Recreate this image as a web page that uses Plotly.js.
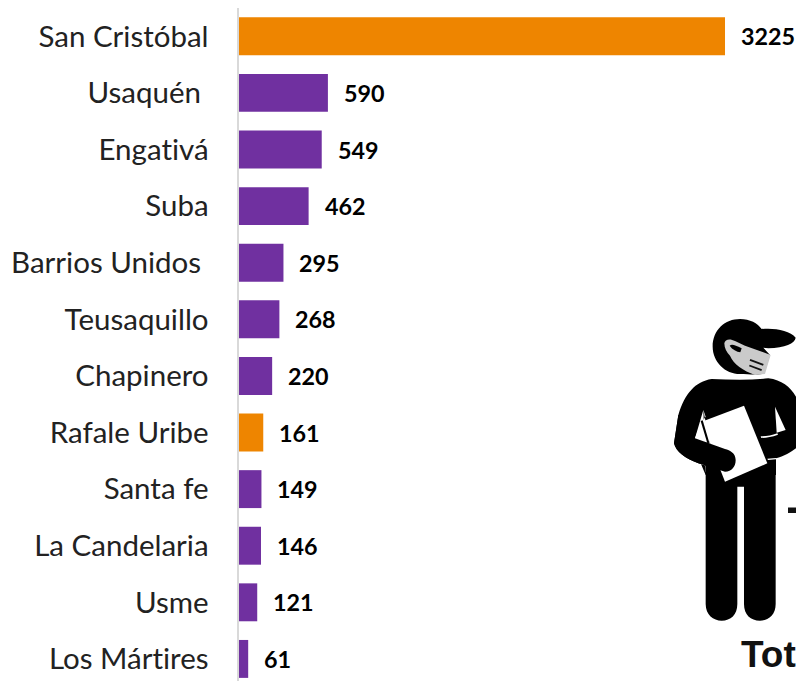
<!DOCTYPE html>
<html><head><meta charset="utf-8">
<script src="https://cdn.plot.ly/plotly-3.0.1.min.js"></script>
<style>html,body{margin:0;padding:0;background:#fff;overflow:hidden}#c{width:796px;height:681px}svg text{font-variant-ligatures:none;font-feature-settings:"liga" 0}</style>
</head><body><div id="c"></div>
<script>
const categories=["San Cristóbal","Usaquén\u00a0","Engativá","Suba","Barrios Unidos\u00a0","Teusaquillo","Chapinero","Rafale Uribe","Santa fe","La Candelaria","Usme","Los Mártires"];
const values=[3225,590,549,462,295,268,220,161,149,146,121,61];
const ORANGE="#EE8500",PURPLE="#7030A0";
const barColors=[ORANGE,PURPLE,PURPLE,PURPLE,PURPLE,PURPLE,PURPLE,ORANGE,PURPLE,PURPLE,PURPLE,PURPLE];
const W=796,H=681,L=239,T=8;
// decorative figure written in local crop units (1/3 px), converted to paper space
const px=x=>(x-L)/(W-L), py=y=>1-(y-T)/(H-T);
const conv=(d,ox,oy)=>{let i=0;return d.replace(/-?\d+(\.\d+)?/g,m=>{const v=+m;return ((i++%2===0)?px(ox+v/3):py(oy+v/3)).toFixed(5);});};
const fig=(d,c,ox,oy)=>({type:'path',xref:'paper',yref:'paper',path:conv(d,ox,oy),fillcolor:c,line:{width:0},layer:'above'});
const H1=(d,c)=>fig(d,c,705,315), B=(d,c)=>fig(d,c,670,375);
const shapes=[
 // legs and torso
 B("M107 280 L107 687 C107 720 130 737 155 737 C182 737 202 720 202 687 L202 335 L222 335 L222 687 C222 720 242 737 270 737 C295 737 317 720 317 687 L317 250 L107 250 Z",'#000'),
 // shoulders, arms, upper body
 B("M125 12 C75 20 45 55 25 120 L12 205 C18 230 45 250 85 265 L165 290 L107 290 L100 105 L75 190 L60 190 L107 300 L318 300 L318 250 C340 245 365 230 378 220 L378 65 C360 35 335 15 295 10 C240 16 180 14 125 12 Z",'#000'),
 // clipboard
 B("M95 140 L222 92 L292 265 L165 320 Z",'#fff'),
 // left side wedge + pen
 B("M100 105 L107 125 L92 145 L75 190 L120 207 Z",'#fff'),
 B("M92 138 L98 136 L118 203 L112 205 Z",'#000'),
 // forearm and hand over the clipboard
 B("M12 205 C18 230 45 250 85 265 L165 290 C185 290 197 275 197 255 C197 235 180 225 165 222 L75 190 L60 120 L25 120 Z",'#000'),
 // right wedge and thin light lines
 B("M315 95 L347 165 L320 173 Z",'#fff'),
 B("M272 184 C290 184 305 182 322 175 L324 179 C305 186 290 188 274 189 Z",'#fff'),
 B("M292 251 L318 249 L318 253 L294 255 Z",'#fff'),
 // head with cap
 H1("M23 95 C23 45 60 12 105 12 C135 12 158 25 170 42 C205 38 255 45 272 68 C270 85 240 98 190 100 L175 98 L195 120 L178 175 C165 180 135 178 105 177 C60 177 23 140 23 95 Z",'#000'),
 // mask
 H1("M58 85 C60 72 75 70 90 78 L120 92 L197 120 L180 177 L150 180 C115 167 85 147 75 122 C65 112 58 100 58 85 Z",'#CACACA'),
 H1("M74 92 C80 86 90 90 110 100 L106 112 C95 110 82 104 74 92 Z",'#000'),
 H1("M136 132 L176 147 L174 152 L134 137 Z",'#111'),
 H1("M134 149 L171 163 L169 168 L132 154 Z",'#111'),
 // clipped letter bar at the page edge
 {type:'path',xref:'paper',yref:'paper',path:`M${px(788)} ${py(507.5)} L${px(796)} ${py(507.5)} L${px(796)} ${py(513)} L${px(788)} ${py(513)} Z`,fillcolor:'#111',line:{width:0},layer:'above'}
];
const annotations=values.map((v,i)=>({x:v,y:categories[i],xref:'x',yref:'y',text:'<b>'+v+'</b>',showarrow:false,xanchor:'left',yanchor:'middle',xshift:14,yshift:0,font:{family:'Lato',size:23.3,color:'#000'}}));
annotations.push({xref:'paper',yref:'paper',x:px(741),y:py(654),text:'<b>Tot</b>',showarrow:false,xanchor:'left',yanchor:'middle',xshift:-2,font:{family:'Liberation Sans',size:37,color:'#111'}});
Plotly.newPlot('c',[{type:'bar',orientation:'h',y:categories,x:values,marker:{color:barColors},width:0.67,hoverinfo:'skip'}],{
 width:W,height:H,margin:{l:L,r:0,t:T,b:0,pad:0},paper_bgcolor:'#fff',plot_bgcolor:'#fff',showlegend:false,
 xaxis:{range:[0,(W-L)/0.1507],visible:false,fixedrange:true},
 yaxis:{type:'category',categoryorder:'array',categoryarray:categories,range:[11.39,-0.5],showgrid:false,zeroline:false,showline:true,linecolor:'#D9D9D9',linewidth:2,ticks:'outside',ticklen:22.5,tickcolor:'rgba(0,0,0,0)',tickfont:{family:'Lato',size:29.5,color:'#222'},automargin:false},
 annotations,shapes
},{displayModeBar:false,staticPlot:true});
</script></body></html>
